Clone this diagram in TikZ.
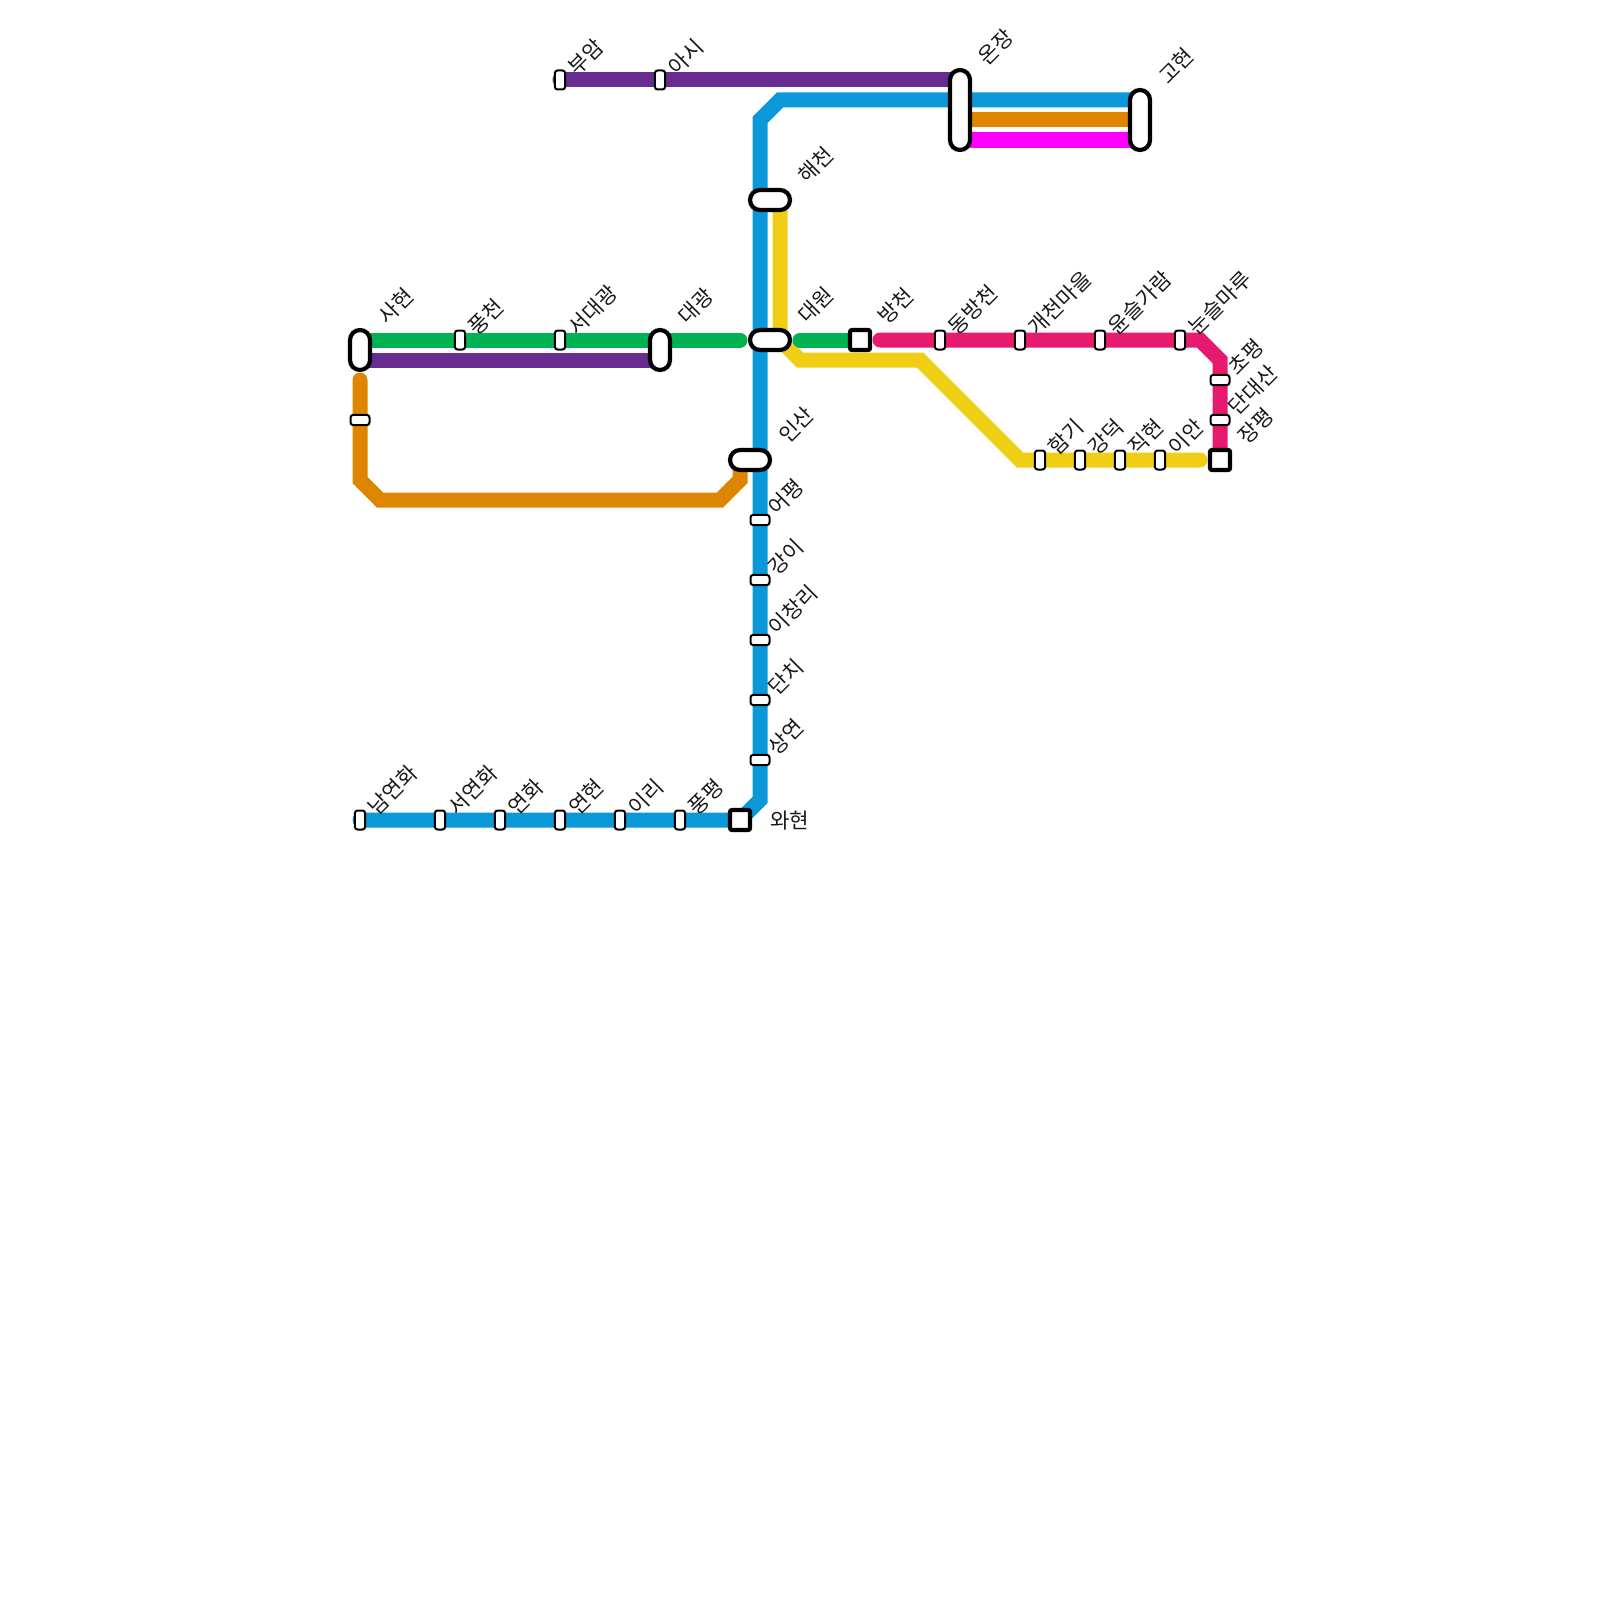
\documentclass[tikz,border=0pt]{standalone}
\usepackage{fontspec}
\setmainfont{Noto Sans CJK KR}
\usepackage{xcolor}
\usetikzlibrary{backgrounds}

\definecolor{lineblue}{HTML}{0A98D8}
\definecolor{lineorange}{HTML}{DF8600}
\definecolor{linegreen}{HTML}{00B251}
\definecolor{linepurple}{HTML}{662C90}
\definecolor{linepink}{HTML}{E61B6F}
\definecolor{lineyellow}{HTML}{F0CE15}
\definecolor{linemagenta}{HTML}{FF00FF}

\begin{document}
\begin{tikzpicture}[
  x=0.5pt, y=-0.5pt,
  font=\fontsize{10.6pt}{12pt}\selectfont,
  route/.style={line width=7.5pt, line cap=round, line join=miter},
  stv/.style={draw, line width=1pt, fill=white, rounded corners=1.4pt, inner sep=0pt, minimum width=5.2pt, minimum height=9.5pt},
  sth/.style={stv, minimum width=9.5pt, minimum height=5.2pt},
  hub/.style={draw, line width=2.1pt, fill=white, rounded corners=5pt, inner sep=0pt, minimum width=20pt, minimum height=10pt},
  hubv/.style={hub, minimum width=10pt, minimum height=20pt},
  term/.style={draw, line width=2.1pt, fill=white, rounded corners=1pt, inner sep=0pt, minimum size=10pt},
  lbl/.style={rotate=45, anchor=west, inner sep=0pt, text=black!90},
]
\useasboundingbox (0,0) rectangle (1600,1600);

% bends
\coordinate (bluetop) at (760,120);
\coordinate (bluetop2) at (780,100);
\coordinate (bluelow) at (760,800);
\coordinate (orangea) at (360,380);
\coordinate (orangeb) at (360,480);
\coordinate (orangec) at (380,500);
\coordinate (oranged) at (720,500);
\coordinate (orangee) at (740,480);
\coordinate (yellowa) at (780,200);
\coordinate (yellowb) at (780,340);
\coordinate (yellowc) at (800,360);
\coordinate (yellowd) at (920,360);
\coordinate (yellowe) at (1020,460);
\coordinate (yellowf) at (1200,460);
\coordinate (greena) at (740,340);
\coordinate (greenb) at (800,340);
\coordinate (pinka) at (880,340);
\coordinate (pinkb) at (1200,340);
\coordinate (pinkc) at (1220,360);

% interchanges
\node[hubv] (sahyeon) at (360,350) {};
\node[hubv] (daegwang) at (660,350) {};
\node[hubv, minimum height=40pt] (onjang) at (960,110) {};
\node[hubv, minimum height=30pt] (gohyeon) at (1140,120) {};
\node[hub] (haecheon) at (770,200) {};
\node[hub] (daewon) at (770,340) {};
\node[hub] (insan) at (750,460) {};
\node[term] (bangcheon) at (860,340) {};
\node[term] (jangpyeong) at (1220,460) {};
\node[term] (wahyeon) at (740,820) {};

\node[lbl] (sahyeon-l) at ([shift={(22,-30)}]sahyeon.center) {사현};
\node[lbl] (daegwang-l) at ([shift={(22,-30)}]daegwang.center) {대광};
\node[lbl] (onjang-l) at ([shift={(22,-49)}]onjang.center) {온장};
\node[lbl] (gohyeon-l) at ([shift={(22,-40)}]gohyeon.center) {고현};
\node[lbl] (haecheon-l) at ([shift={(32,-21)}]haecheon.center) {해천};
\node[lbl] (daewon-l) at ([shift={(32,-21)}]daewon.center) {대원};
\node[lbl] (insan-l) at ([shift={(32,-21)}]insan.center) {인산};
\node[lbl] (bangcheon-l) at ([shift={(22,-20)}]bangcheon.center) {방천};
\node[lbl] (jangpyeong-l) at ([shift={(22,-20)}]jangpyeong.center) {장평};
\node[anchor=west, inner sep=0pt, text=black!90] (wahyeon-l) at (770,821) {와현};

% ordinary stops
\foreach \n/\x/\y/\t in {pungcheon/460/340/풍천, seodaegwang/560/340/서대광, buam/560/80/부암, asi/660/80/아시,
    dongbang/940/340/동방천, gaecheon/1020/340/개천마을, yunseul/1100/340/윤슬가람, nunseul/1180/340/눈슬마루,
    hamgi/1040/460/함기, gangdeok/1080/460/강덕, jikhyeon/1120/460/직현, ian/1160/460/이안,
    namyeon/360/820/남연화, seoyeon/440/820/서연화, yeonhwa/500/820/연화, yeonhyeon/560/820/연현, iri/620/820/이리, pungpyeong/680/820/풍평}{
  \node[stv] (\n) at (\x,\y) {};
  \node[lbl] (\n-l) at ([shift={(12,-9)}]\n.center) {\t};
}
\foreach \n/\x/\y/\t in {eopyeong/760/520/어평, gangi/760/580/강이, ichang/760/640/이창리, danchi/760/700/단치, sangyeon/760/760/상연,
    chopyeong/1220/380/초평, dandae/1220/420/단대산}{
  \node[sth] (\n) at (\x,\y) {};
  \node[lbl] (\n-l) at ([shift={(12,-9)}]\n.center) {\t};
}
\node[sth] (orangestop) at (360,420) {};

\begin{pgfonlayer}{background}
  \draw[route, lineorange] (orangea) -- (orangeb) -- (orangec) -- (oranged) -- (orangee) -- (insan.center -| orangee);
  \draw[route, lineorange] (onjang.center |- 0,120) -- (gohyeon.center);
  \draw[route, linemagenta] (onjang.center |- 0,140) -- (gohyeon.center |- 0,140);
  \draw[route, lineyellow] (yellowa) -- (yellowb) -- (yellowc) -- (yellowd) -- (yellowe) -- (yellowf);
  \draw[route, linegreen] (sahyeon.center |- greena) -- (greena);
  \draw[route, linegreen] (greenb) -- (bangcheon.center);
  \draw[route, linepurple] (sahyeon.center |- 0,360) -- (daegwang.center |- 0,360);
  \draw[route, linepurple] (buam.center) -- (onjang.center |- buam.center);
  \draw[route, linepink] (pinka) -- (pinkb) -- (pinkc) -- (jangpyeong.center);
  \draw[route, lineblue] (gohyeon.center |- bluetop2) -- (bluetop2) -- (bluetop) -- (bluelow) -- (wahyeon.center) -- (namyeon.center);
\end{pgfonlayer}
\end{tikzpicture}
\end{document}
